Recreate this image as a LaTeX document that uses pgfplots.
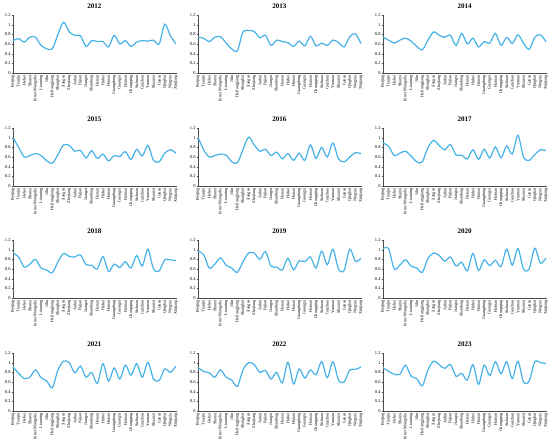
\documentclass[border=0pt]{standalone}
\usepackage{pgfplots}
\pgfplotsset{compat=1.18}
\usepackage{pgfplotstable}
\usepackage{fontspec}
\setmainfont{Liberation Serif}

\definecolor{lineblue}{RGB}{70,178,232}

% one row per province, one column per year
\pgfplotstableread{
idx Y2012 Y2013 Y2014 Y2015 Y2016 Y2017 Y2018 Y2019 Y2020 Y2021 Y2022 Y2023
0  0.67 0.74 0.74 1.00 1.01 0.89 0.93 0.97 1.02 0.91 0.90 0.90
1  0.71 0.72 0.68 0.80 0.75 0.82 0.85 0.90 1.02 0.78 0.82 0.82
2  0.64 0.65 0.62 0.60 0.60 0.63 0.64 0.62 0.60 0.67 0.79 0.76
3  0.74 0.74 0.68 0.63 0.63 0.68 0.70 0.70 0.68 0.70 0.70 0.76
4  0.74 0.75 0.72 0.67 0.66 0.72 0.80 0.83 0.79 0.85 0.85 0.95
5  0.57 0.62 0.66 0.63 0.64 0.62 0.62 0.68 0.66 0.69 0.70 0.72
6  0.50 0.50 0.55 0.52 0.50 0.50 0.58 0.62 0.62 0.62 0.64 0.67
7  0.50 0.46 0.48 0.47 0.48 0.50 0.52 0.53 0.53 0.48 0.51 0.52
8  0.80 0.85 0.68 0.65 0.75 0.80 0.75 0.75 0.82 0.85 0.85 0.85
9  1.05 0.88 0.85 0.85 1.01 0.94 0.92 0.93 0.93 1.03 1.00 1.03
10 0.85 0.86 0.78 0.84 0.85 0.84 0.86 0.93 0.88 1.00 0.96 0.96
11 0.78 0.73 0.74 0.72 0.72 0.75 0.85 0.80 0.76 0.79 0.80 0.88
12 0.77 0.78 0.78 0.74 0.76 0.86 0.89 0.96 0.85 0.93 0.84 0.96
13 0.55 0.57 0.57 0.58 0.63 0.64 0.69 0.66 0.66 0.70 0.66 0.72
14 0.67 0.68 0.82 0.73 0.70 0.64 0.68 0.64 0.74 0.80 0.80 0.78
15 0.65 0.65 0.60 0.57 0.56 0.56 0.60 0.58 0.56 0.57 0.58 0.64
16 0.65 0.63 0.72 0.66 0.67 0.75 0.86 0.82 0.92 0.98 1.01 0.96
17 0.54 0.55 0.54 0.52 0.53 0.55 0.55 0.58 0.57 0.62 0.56 0.55
18 0.78 0.66 0.65 0.63 0.68 0.76 0.70 0.77 0.79 0.89 0.87 0.95
19 0.60 0.56 0.62 0.61 0.53 0.58 0.63 0.75 0.67 0.66 0.68 0.73
20 0.67 0.76 0.82 0.71 0.85 0.81 0.75 0.85 0.78 0.95 0.85 1.02
21 0.55 0.56 0.57 0.55 0.57 0.58 0.62 0.62 0.65 0.74 0.75 0.77
22 0.64 0.62 0.74 0.76 0.80 0.83 0.88 0.97 1.01 0.98 1.02 1.02
23 0.67 0.57 0.61 0.62 0.60 0.66 0.66 0.69 0.68 0.70 0.69 0.67
24 0.66 0.68 0.79 0.84 0.89 1.05 1.01 1.01 1.02 1.01 1.02 1.03
25 0.68 0.63 0.62 0.53 0.56 0.60 0.60 0.60 0.60 0.66 0.64 0.60
26 0.60 0.54 0.49 0.50 0.50 0.53 0.56 0.57 0.60 0.63 0.60 0.62
27 1.01 0.75 0.74 0.68 0.60 0.65 0.79 1.01 1.03 0.87 0.85 1.02
28 0.77 0.81 0.79 0.75 0.69 0.75 0.79 0.76 0.72 0.80 0.86 1.00
29 0.60 0.61 0.65 0.68 0.67 0.73 0.77 0.82 0.83 0.93 0.91 0.98
}\datatable

\pgfplotsset{
  panel/.style={
    scale only axis, width=163pt, height=58pt,
    anchor=south west,
    axis lines*=left,
    axis line style={black!70, line width=0.4pt},
    xmin=0, xmax=29, ymin=0, ymax=1.2,
    ytick={0,0.2,...,1.2},
    xtick={0,...,29},
    xticklabels={Beijing,Tianjin,Hebei,Shanxi,Inner Mongolia,Liaoning,Jilin,Heilongjiang,Shanghai,Jiangsu,Zhejiang,Anhui,Fujian,Jiangxi,Shandong,Henan,Hubei,Hunan,Guangdong,Guangxi,Hainan,Chongqing,Sichuan,Guizhou,Yunnan,Shaanxi,Gansu,Qinghai,Ningxia,Xinjiang},
    tick align=outside, major tick length=1.2pt,
    tick style={black!70, line width=0.3pt},
    xticklabel style={rotate=90, anchor=east, font=\fontsize{4.2}{4.5}\selectfont, inner sep=0.8pt},
    yticklabel style={font=\fontsize{4.5}{5}\selectfont, inner sep=1pt},
    /pgf/number format/assume math mode=true,
    title style={font=\fontsize{7}{8}\selectfont\bfseries, yshift=-3pt},
    clip=false,
  },
  curve/.style={lineblue, line width=1.2pt, smooth, no markers},
}

\newcommand{\panel}[3]{%
  \begin{axis}[panel, at={(#1pt,#2pt)}, title={#3}]
    \addplot[curve] table[x=idx, y=Y#3] {\datatable};
  \end{axis}}

\begin{document}
\begin{tikzpicture}
\path[use as bounding box] (0,0) rectangle (550pt,445pt);
\panel{13}{372}{2012}
\panel{198}{372}{2013}
\panel{383}{372}{2014}
\panel{13}{259}{2015}
\panel{198}{259}{2016}
\panel{383}{259}{2017}
\panel{13}{147}{2018}
\panel{198}{147}{2019}
\panel{383}{147}{2020}
\panel{13}{34}{2021}
\panel{198}{34}{2022}
\panel{383}{34}{2023}
\end{tikzpicture}
\end{document}
